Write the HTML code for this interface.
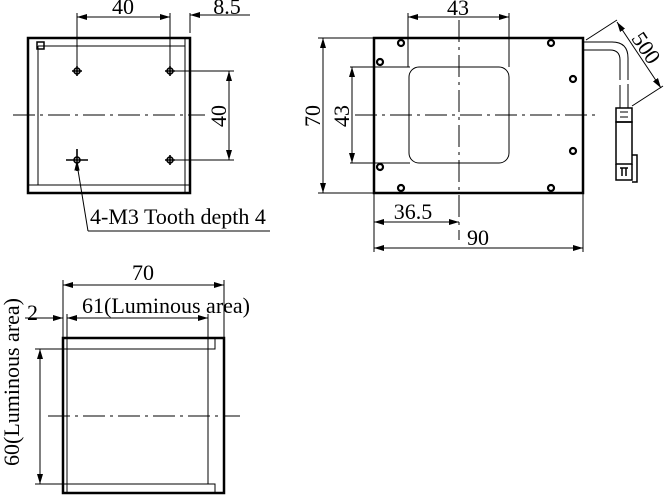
<!DOCTYPE html>
<html><head><style>body{margin:0;background:#fff}svg{display:block}text{font-family:"Liberation Serif",serif;font-size:22px;fill:#000}</style></head><body>
<svg width="667" height="496" viewBox="0 0 667 496" xmlns="http://www.w3.org/2000/svg">
<defs>
<marker id="a" viewBox="0 0 10 6" refX="10" refY="3" markerWidth="10" markerHeight="6" orient="auto-start-reverse" markerUnits="userSpaceOnUse"><path d="M0,0L10,3L0,6z" fill="#000"/></marker>
</defs>
<g stroke="#000" fill="none" stroke-width="1">
<rect x="28" y="38" width="162" height="155" stroke-width="2.5"/>
<path d="M38,46H185M38,46V185M28,185H190M185,38V193"/>
<rect x="37" y="42" width="7" height="7" stroke-width="1.5"/>
<path d="M13,115H205" stroke-dasharray="22,5,3,5"/>
<g stroke-width="1.6">
<circle cx="77" cy="71" r="3"/><circle cx="170" cy="71" r="3"/><circle cx="77" cy="160" r="3"/><circle cx="170" cy="160" r="3"/>
<path d="M72,71h10M77,66v10M165,71h10M170,66v10M66,160h22M77,149v22M165,160h10M170,155v10"/>
</g>
<path d="M77,13V71M170,13V71M190,13V33"/>
<path d="M77,17H170" marker-start="url(#a)" marker-end="url(#a)"/>
<path d="M250,15H190" marker-end="url(#a)"/>
<path d="M170,71H234M170,160H234"/>
<path d="M229,71V160" marker-start="url(#a)" marker-end="url(#a)"/>
<path d="M88,231H270M88,231L77,164"/>
<path d="M79,170L77,162L75,170z" fill="#000"/>
<rect x="374" y="38" width="209" height="155" stroke-width="2.5"/>
<rect x="409" y="67" width="100" height="96" rx="10"/>
<path d="M459,20V240" stroke-dasharray="22,5,3,5"/>
<path d="M355,115H597" stroke-dasharray="22,5,3,5"/>
<g stroke-width="2.2"><circle cx="401" cy="43" r="3"/><circle cx="551" cy="43" r="3"/><circle cx="380" cy="62" r="3"/><circle cx="573" cy="79" r="3"/><circle cx="380" cy="167" r="3"/><circle cx="573" cy="151" r="3"/><circle cx="401" cy="188" r="3"/><circle cx="551" cy="188" r="3"/></g>
<path d="M408,13V67M509,13V67"/>
<path d="M408,17H509" marker-start="url(#a)" marker-end="url(#a)"/>
<path d="M318,38H374M318,193H374"/>
<path d="M323,38V193" marker-start="url(#a)" marker-end="url(#a)"/>
<path d="M350,67H410M350,163H410"/>
<path d="M352,67V163" marker-start="url(#a)" marker-end="url(#a)"/>
<path d="M374,193V252M583,193V252"/>
<path d="M374,222H459" marker-start="url(#a)" marker-end="url(#a)"/>
<path d="M374,248H583" marker-start="url(#a)" marker-end="url(#a)"/>
<path d="M583,42H612Q628,42 628,58V80M583,50H610Q620,50 620,60V80M620,85V108M628,84V108"/>
<rect x="616" y="108" width="16" height="14" stroke-width="1.5"/>
<path d="M620,112h8M620,117h8"/>
<rect x="616" y="122" width="16" height="42" stroke-width="1.5"/>
<path d="M632,155h5v27h-5M616,164v16h16v-16M620,168h8M622,168v8M626,168v8" stroke-width="1.5"/>
<path d="M586,40L617,20M632,106L663,86"/>
<path d="M617,22L661,88" marker-start="url(#a)" marker-end="url(#a)"/>
<rect x="63" y="338" width="161" height="155" stroke-width="2.5"/>
<path d="M67,314V493M67,349H215V338M67,484H215V493M208,314V484"/>
<path d="M48,416H240" stroke-dasharray="22,5,3,5"/>
<path d="M63,280V338M224,280V338"/>
<path d="M63,285H224" marker-start="url(#a)" marker-end="url(#a)"/>
<path d="M67,318H208" marker-start="url(#a)" marker-end="url(#a)"/>
<path d="M25,318H63" marker-end="url(#a)"/>
<path d="M35,349H67M35,484H67"/>
<path d="M40,349V484" marker-start="url(#a)" marker-end="url(#a)"/>
</g>
<text x="123" y="14" text-anchor="middle">40</text>
<text x="227" y="14" text-anchor="middle">8.5</text>
<text transform="translate(226,116) rotate(-90)" text-anchor="middle">40</text>
<text x="90" y="224">4-M3 Tooth depth 4</text>
<text x="458" y="15" text-anchor="middle">43</text>
<text transform="translate(320,116) rotate(-90)" text-anchor="middle">70</text>
<text transform="translate(349,116) rotate(-90)" text-anchor="middle">43</text>
<text x="413" y="219" text-anchor="middle">36.5</text>
<text x="478" y="245" text-anchor="middle">90</text>
<text transform="translate(640,52) rotate(56)" text-anchor="middle">500</text>
<text x="143" y="280" text-anchor="middle">70</text>
<text x="82" y="313">61(Luminous area)</text>
<text x="27" y="320">2</text>
<text transform="translate(19,382) rotate(-90)" text-anchor="middle">60(Luminous area)</text>
</svg>
</body></html>
